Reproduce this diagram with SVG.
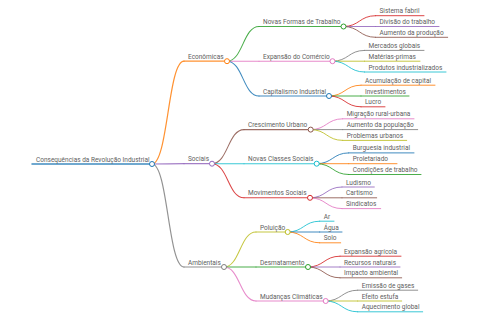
<svg xmlns="http://www.w3.org/2000/svg" width="480" height="320" viewBox="0 0 480 320">
<style>
.t{font-family:Roboto,"Liberation Sans",sans-serif;font-size:6.5px;fill:#606060}
path,line{fill:none;stroke-linecap:round;stroke-opacity:0.85}
circle{fill:#fff;stroke-width:1}
.d0{stroke-width:1.5}.d1{stroke-width:1.2}.d2{stroke-width:1.05}.d3{stroke-width:1}
.blue{stroke:#1f77b4}.orange{stroke:#ff7f0e}.green{stroke:#2ca02c}.red{stroke:#d62728}.purple{stroke:#9467bd}
.brown{stroke:#8c564b}.pink{stroke:#e377c2}.gray{stroke:#7f7f7f}.olive{stroke:#bcbd22}.cyan{stroke:#17becf}
</style>
<rect width="480" height="320" fill="#fff"/>
<g id="connectors">
<path class="d1 orange" d="M152,164C168,164 168,61.2 184,61.2"/>
<path class="d1 purple" d="M152,164C168,164 168,163.7 184,163.7"/>
<path class="d1 gray" d="M152,164C168,164 168,267 184,267"/>
<path class="d2 green" d="M227,61.2C243,61.2 243,26.5 259,26.5"/>
<path class="d2 pink" d="M227,61.2L259,61.2"/>
<path class="d2 blue" d="M227,61.2C243,61.2 243,96 259,96"/>
<path class="d2 brown" d="M212,163.7C228,163.7 228,129.6 244,129.6"/>
<path class="d2 cyan" d="M212,163.7L244,163.7"/>
<path class="d2 red" d="M212,163.7C228,163.7 228,197.8 244,197.8"/>
<path class="d2 olive" d="M224,267C240,267 240,232 256,232"/>
<path class="d2 green" d="M224,267L256,267"/>
<path class="d2 pink" d="M224,267C240,267 240,301 256,301"/>
<path class="d3 red" d="M343.5,26.5C359.5,26.5 359.5,15.7 375.5,15.7"/>
<path class="d3 purple" d="M343.5,26.5L375.5,26.5"/>
<path class="d3 brown" d="M343.5,26.5C359.5,26.5 359.5,37.3 375.5,37.3"/>
<path class="d3 gray" d="M332.5,61.2C348.5,61.2 348.5,50.4 364.5,50.4"/>
<path class="d3 olive" d="M332.5,61.2L364.5,61.2"/>
<path class="d3 cyan" d="M332.5,61.2C348.5,61.2 348.5,72 364.5,72"/>
<path class="d3 orange" d="M329,96C345,96 345,85.2 361,85.2"/>
<path class="d3 green" d="M329,96L361,96"/>
<path class="d3 red" d="M329,96C345,96 345,106.8 361,106.8"/>
<path class="d3 pink" d="M310.7,129.6C326.7,129.6 326.7,118.8 342.7,118.8"/>
<path class="d3 gray" d="M310.7,129.6L342.7,129.6"/>
<path class="d3 olive" d="M310.7,129.6C326.7,129.6 326.7,140.4 342.7,140.4"/>
<path class="d3 blue" d="M316.7,163.7C332.7,163.7 332.7,152.9 348.7,152.9"/>
<path class="d3 orange" d="M316.7,163.7L348.7,163.7"/>
<path class="d3 green" d="M316.7,163.7C332.7,163.7 332.7,174.5 348.7,174.5"/>
<path class="d3 purple" d="M310,197.8C326,197.8 326,187 342,187"/>
<path class="d3 brown" d="M310,197.8L342,197.8"/>
<path class="d3 pink" d="M310,197.8C326,197.8 326,208.6 342,208.6"/>
<path class="d3 cyan" d="M287.7,232C303.7,232 303.7,221.2 319.7,221.2"/>
<path class="d3 blue" d="M287.7,232L319.7,232"/>
<path class="d3 orange" d="M287.7,232C303.7,232 303.7,242.8 319.7,242.8"/>
<path class="d3 red" d="M308,267C324,267 324,256.2 340,256.2"/>
<path class="d3 purple" d="M308,267L340,267"/>
<path class="d3 brown" d="M308,267C324,267 324,277.8 340,277.8"/>
<path class="d3 gray" d="M325.7,301C341.7,301 341.7,290.2 357.7,290.2"/>
<path class="d3 olive" d="M325.7,301L357.7,301"/>
<path class="d3 cyan" d="M325.7,301C341.7,301 341.7,311.8 357.7,311.8"/>
</g>
<g id="root"><line class="d0 blue" x1="32" y1="164" x2="152" y2="164"/><circle class="blue" cx="152" cy="164" r="2.5"/><text class="t" x="36" y="161.5">Consequências da Revolução Industrial</text></g>
<g id="economicas"><line class="d1 orange" x1="184" y1="61.2" x2="227" y2="61.2"/><circle class="orange" cx="227" cy="61.2" r="2.5"/><text class="t" x="188" y="58.7">Econômicas</text></g>
<g id="sociais"><line class="d1 purple" x1="184" y1="163.7" x2="212" y2="163.7"/><circle class="purple" cx="212" cy="163.7" r="2.5"/><text class="t" x="188" y="161.2">Sociais</text></g>
<g id="ambientais"><line class="d1 gray" x1="184" y1="267" x2="224" y2="267"/><circle class="gray" cx="224" cy="267" r="2.5"/><text class="t" x="188" y="264.5">Ambientais</text></g>
<g id="novas-formas"><line class="d2 green" x1="259" y1="26.5" x2="343.5" y2="26.5"/><circle class="green" cx="343.5" cy="26.5" r="2.5"/><text class="t" x="263" y="24">Novas Formas de Trabalho</text></g>
<g id="expansao-comercio"><line class="d2 pink" x1="259" y1="61.2" x2="332.5" y2="61.2"/><circle class="pink" cx="332.5" cy="61.2" r="2.5"/><text class="t" x="263" y="58.7">Expansão do Comércio</text></g>
<g id="capitalismo"><line class="d2 blue" x1="259" y1="96" x2="329" y2="96"/><circle class="blue" cx="329" cy="96" r="2.5"/><text class="t" x="263" y="93.5">Capitalismo Industrial</text></g>
<g id="crescimento"><line class="d2 brown" x1="244" y1="129.6" x2="310.7" y2="129.6"/><circle class="brown" cx="310.7" cy="129.6" r="2.5"/><text class="t" x="248" y="127.1">Crescimento Urbano</text></g>
<g id="novas-classes"><line class="d2 cyan" x1="244" y1="163.7" x2="316.7" y2="163.7"/><circle class="cyan" cx="316.7" cy="163.7" r="2.5"/><text class="t" x="248" y="161.2">Novas Classes Sociais</text></g>
<g id="movimentos"><line class="d2 red" x1="244" y1="197.8" x2="310" y2="197.8"/><circle class="red" cx="310" cy="197.8" r="2.5"/><text class="t" x="248" y="195.3">Movimentos Sociais</text></g>
<g id="poluicao"><line class="d2 olive" x1="256" y1="232" x2="287.7" y2="232"/><circle class="olive" cx="287.7" cy="232" r="2.5"/><text class="t" x="260" y="229.5">Poluição</text></g>
<g id="desmatamento"><line class="d2 green" x1="256" y1="267" x2="308" y2="267"/><circle class="green" cx="308" cy="267" r="2.5"/><text class="t" x="260" y="264.5">Desmatamento</text></g>
<g id="mudancas"><line class="d2 pink" x1="256" y1="301" x2="325.7" y2="301"/><circle class="pink" cx="325.7" cy="301" r="2.5"/><text class="t" x="260" y="298.5">Mudanças Climáticas</text></g>
<g id="sistema-fabril"><line class="d3 red" x1="375.5" y1="15.7" x2="424" y2="15.7"/><text class="t" x="379.5" y="13.2">Sistema fabril</text></g>
<g id="divisao-trabalho"><line class="d3 purple" x1="375.5" y1="26.5" x2="439" y2="26.5"/><text class="t" x="379.5" y="24">Divisão do trabalho</text></g>
<g id="aumento-producao"><line class="d3 brown" x1="375.5" y1="37.3" x2="447.7" y2="37.3"/><text class="t" x="379.5" y="34.8">Aumento da produção</text></g>
<g id="mercados"><line class="d3 gray" x1="364.5" y1="50.4" x2="424" y2="50.4"/><text class="t" x="368.5" y="47.9">Mercados globais</text></g>
<g id="materias"><line class="d3 olive" x1="364.5" y1="61.2" x2="420" y2="61.2"/><text class="t" x="368.5" y="58.7">Matérias-primas</text></g>
<g id="produtos"><line class="d3 cyan" x1="364.5" y1="72" x2="446" y2="72"/><text class="t" x="368.5" y="69.5">Produtos industrializados</text></g>
<g id="acumulacao"><line class="d3 orange" x1="361" y1="85.2" x2="435" y2="85.2"/><text class="t" x="365" y="82.7">Acumulação de capital</text></g>
<g id="investimentos"><line class="d3 green" x1="361" y1="96" x2="409" y2="96"/><text class="t" x="365" y="93.5">Investimentos</text></g>
<g id="lucro"><line class="d3 red" x1="361" y1="106.8" x2="385" y2="106.8"/><text class="t" x="365" y="104.3">Lucro</text></g>
<g id="migracao"><line class="d3 pink" x1="342.7" y1="118.8" x2="414" y2="118.8"/><text class="t" x="346.7" y="116.3">Migração rural-urbana</text></g>
<g id="aumento-populacao"><line class="d3 gray" x1="342.7" y1="129.6" x2="417.7" y2="129.6"/><text class="t" x="346.7" y="127.1">Aumento da população</text></g>
<g id="problemas"><line class="d3 olive" x1="342.7" y1="140.4" x2="406.7" y2="140.4"/><text class="t" x="346.7" y="137.9">Problemas urbanos</text></g>
<g id="burguesia"><line class="d3 blue" x1="348.7" y1="152.9" x2="414" y2="152.9"/><text class="t" x="352.7" y="150.4">Burguesia industrial</text></g>
<g id="proletariado"><line class="d3 orange" x1="348.7" y1="163.7" x2="397" y2="163.7"/><text class="t" x="352.7" y="161.2">Proletariado</text></g>
<g id="condicoes"><line class="d3 green" x1="348.7" y1="174.5" x2="421" y2="174.5"/><text class="t" x="352.7" y="172">Condições de trabalho</text></g>
<g id="ludismo"><line class="d3 purple" x1="342" y1="187" x2="374.3" y2="187"/><text class="t" x="346" y="184.5">Ludismo</text></g>
<g id="cartismo"><line class="d3 brown" x1="342" y1="197.8" x2="376.7" y2="197.8"/><text class="t" x="346" y="195.3">Cartismo</text></g>
<g id="sindicatos"><line class="d3 pink" x1="342" y1="208.6" x2="380.7" y2="208.6"/><text class="t" x="346" y="206.1">Sindicatos</text></g>
<g id="ar"><line class="d3 cyan" x1="319.7" y1="221.2" x2="334" y2="221.2"/><text class="t" x="323.7" y="218.7">Ar</text></g>
<g id="agua"><line class="d3 blue" x1="319.7" y1="232" x2="342" y2="232"/><text class="t" x="323.7" y="229.5">Água</text></g>
<g id="solo"><line class="d3 orange" x1="319.7" y1="242.8" x2="340.7" y2="242.8"/><text class="t" x="323.7" y="240.3">Solo</text></g>
<g id="expansao-agricola"><line class="d3 red" x1="340" y1="256.2" x2="401" y2="256.2"/><text class="t" x="344" y="253.7">Expansão agrícola</text></g>
<g id="recursos"><line class="d3 purple" x1="340" y1="267" x2="400" y2="267"/><text class="t" x="344" y="264.5">Recursos naturais</text></g>
<g id="impacto"><line class="d3 brown" x1="340" y1="277.8" x2="401.7" y2="277.8"/><text class="t" x="344" y="275.3">Impacto ambiental</text></g>
<g id="emissao"><line class="d3 gray" x1="357.7" y1="290.2" x2="417.7" y2="290.2"/><text class="t" x="361.7" y="287.7">Emissão de gases</text></g>
<g id="efeito-estufa"><line class="d3 olive" x1="357.7" y1="301" x2="401.7" y2="301"/><text class="t" x="361.7" y="298.5">Efeito estufa</text></g>
<g id="aquecimento"><line class="d3 cyan" x1="357.7" y1="311.8" x2="422.7" y2="311.8"/><text class="t" x="361.7" y="309.3">Aquecimento global</text></g>
</svg>
